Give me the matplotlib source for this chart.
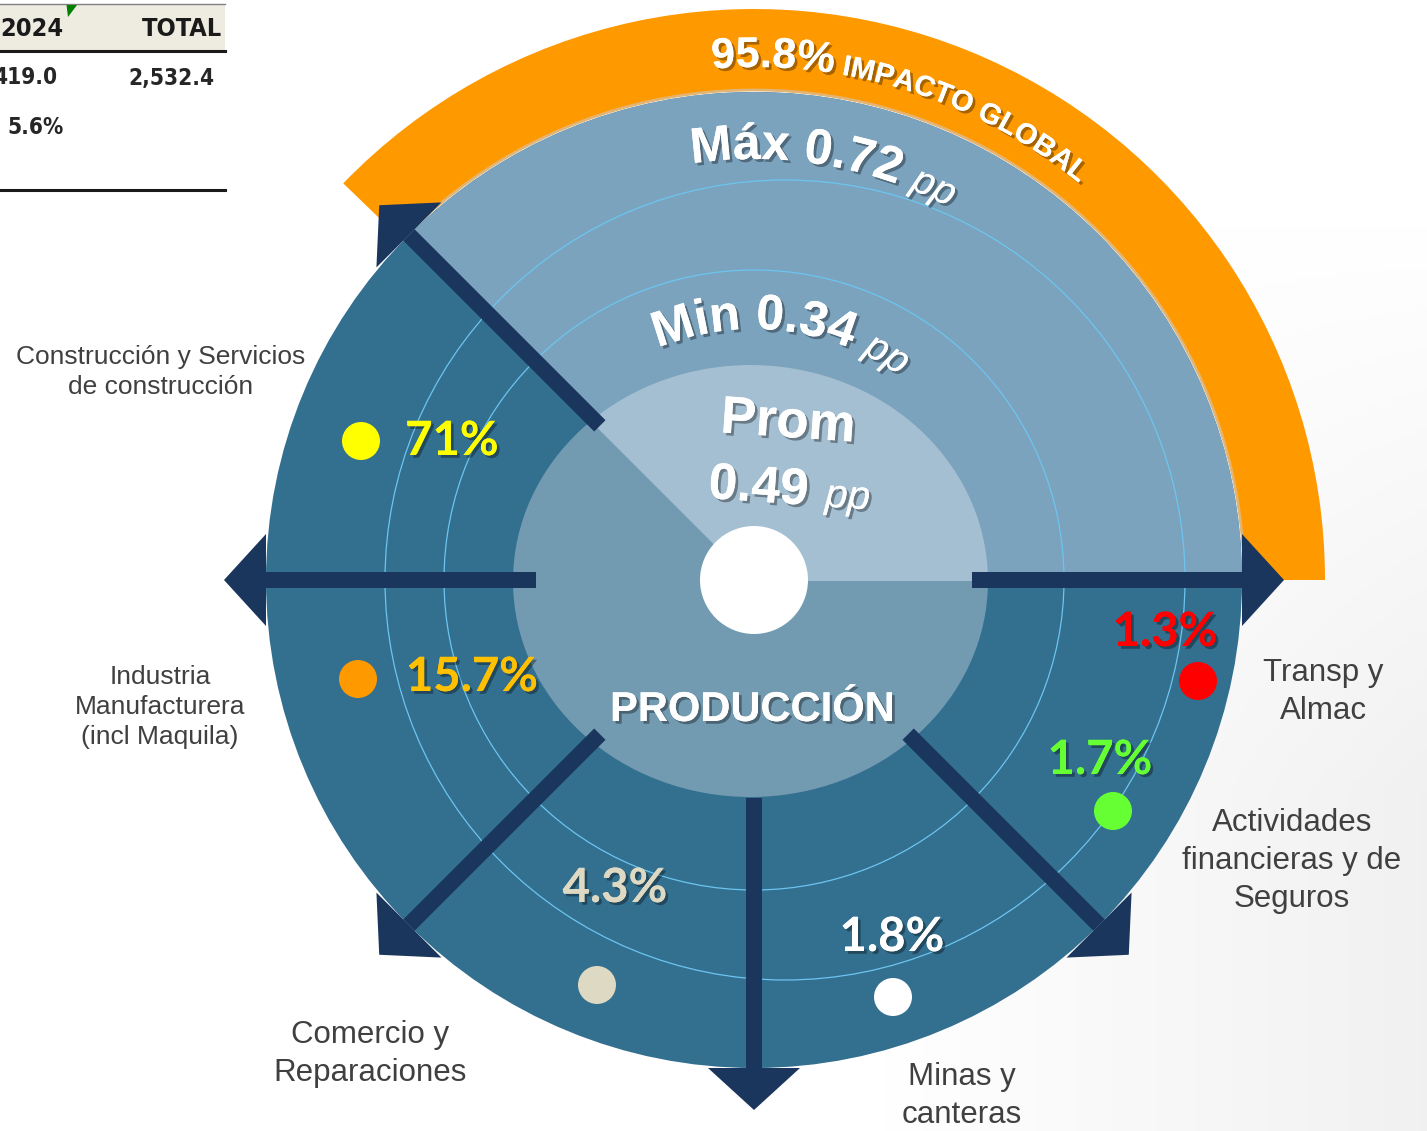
import numpy as np
import matplotlib
matplotlib.use('Agg')
import matplotlib.pyplot as plt
from matplotlib.patches import Wedge, Circle, Ellipse, Polygon, Rectangle, Arc
from matplotlib import font_manager as fm
from matplotlib.font_manager import FontProperties, findfont, get_font
import matplotlib.patheffects as pe

# --- data ---
impacto_global = 95.8
pp_max, pp_min, pp_prom = 0.72, 0.34, 0.49
sectores = ['Construcción y Servicios\nde construcción',
            'Industria\nManufacturera\n(incl Maquila)',
            'Comercio y\nReparaciones',
            'Minas y\ncanteras',
            'Actividades\nfinancieras y de\nSeguros',
            'Transp y\nAlmac']
participacion = [71.0, 15.7, 4.3, 1.8, 1.7, 1.3]
color_punto = ['#FFFF00', '#FF9900', '#DDD9C3', '#FFFFFF', '#66FF33', '#FF0000']
color_pct = ['#FFFF00', '#FFC000', '#DDD9C3', '#FFFFFF', '#66FF33', '#FF0000']
flechas_ang = [0, 135, 180, 225, 270, 315]
tabla_cols = ['2024', 'TOTAL']
tabla_fila1 = ['419.0', '2,532.4']
tabla_fila2 = ['5.6%', '']

# --- layout (image pixel coords) ---
pct_pos = [(452, 441), (472, 677), (615, 888), (892, 937), (1100, 760), (1165, 632)]
dot_pos = [(361, 441), (358, 679), (597, 985), (893, 997), (1113, 811), (1198, 681)]
lab_pos = [(161, 372), (160, 707), (370, 1054), (962, 1096), (1292, 861), (1323, 692)]
lab_size = [19, 19, 22.5, 22.5, 22.5, 22.5]

W, H = 1427, 1131
fig = plt.figure(figsize=(W / 100, H / 100), dpi=100)
ax = fig.add_axes([0, 0, 1, 1])


def Y(y):
    return H - y


CX, CY = 754, Y(580)
R = 488
ARIAL = 'Liberation Sans'
shadow = [pe.withSimplePatchShadow(offset=(2, -2), shadow_rgbFace='black', alpha=0.35), pe.Normal()]

# soft grey background on the right
gx = np.linspace(0, 1, 300)
gy = np.linspace(0, 1, 240)
GX, GY = np.meshgrid(gx, gy)
shade = np.clip((GX - 0.62) / 0.38, 0, 1) * np.clip((GY - 0.2) / 0.5, 0, 1)
bg = np.ones((240, 300, 3)) - 0.055 * shade[..., None]
ax.imshow(bg, extent=[0, W, H, 0], zorder=0, aspect='auto', origin='lower')
ax.set_xlim(0, W)
ax.set_ylim(0, H)
ax.axis('off')

# orange band
ax.add_patch(Wedge((CX, CY), 571, 0, 136, width=81, color='#FF9900', lw=0, zorder=1))
ax.add_patch(Arc((CX, CY), 2 * 490, 2 * 490, theta1=0, theta2=136, color='#E3B574', lw=2, zorder=1.5))

# main disk
ax.add_patch(Circle((CX, CY), R, color='#336F8F', lw=0, zorder=2))
ax.add_patch(Wedge((CX, CY), R, 0, 135, color='#7BA3BE', lw=0, zorder=2.1))
ax.add_patch(Circle((CX, CY), 310, fill=False, ec='#6CC5F0', lw=0.9, zorder=3))
ax.add_patch(Circle((CX + 31, CY), 400, fill=False, ec='#6CC5F0', lw=0.9, zorder=3))

# inner ellipse
ex, ey, ea, eb = 750.5, Y(581), 237.5, 216
ax.add_patch(Ellipse((ex, ey), 2 * ea, 2 * eb, color='#729BB2', lw=0, zorder=4))
phi = np.radians(np.linspace(0, 135, 120))
rr = ea * eb / np.sqrt((eb * np.cos(phi)) ** 2 + (ea * np.sin(phi)) ** 2)
pts = np.column_stack([ex + rr * np.cos(phi), ey + rr * np.sin(phi)])
pts = np.vstack([[ex, ey], pts])
ax.add_patch(Polygon(pts, closed=True, color='#A4BED2', lw=0, zorder=4.1))

# arrows
for a in flechas_ang:
    t = np.radians(a)
    u = np.array([np.cos(t), np.sin(t)])
    n = np.array([-np.sin(t), np.cos(t)])
    c = np.array([CX, CY])
    bar = [c + u * 218 + n * 8, c + u * R + n * 8, c + u * R - n * 8, c + u * 218 - n * 8]
    ax.add_patch(Polygon(bar, closed=True, color='#1B365D', lw=0, zorder=5))
    head = [c + u * R + n * 46, c + u * 530, c + u * R - n * 46]
    ax.add_patch(Polygon(head, closed=True, color='#1B365D', lw=0, zorder=5))

ax.add_patch(Circle((CX, CY), 54, color='white', lw=0, zorder=6))


def advances(s, fp, px):
    font = get_font(findfont(fp))
    font.set_size(px, 72)
    return [font.load_char(ord(ch)).linearHoriAdvance / 65536 for ch in s]


def arc_text(segments, r, theta0, color):
    pos = 0.0
    for s, px, weight, style in segments:
        fp = FontProperties(family=ARIAL, weight=weight, style=style, size=px)
        for ch, adv in zip(s, advances(s, fp, px)):
            p = np.radians(theta0) - (pos + adv / 2) / r
            pos += adv
            if ch == ' ':
                continue
            ax.text(CX + r * np.cos(p), CY + r * np.sin(p), ch, family=ARIAL, weight=weight,
                    style=style, fontsize=px * 0.72, color=color, rotation=np.degrees(p) - 90,
                    ha='center', va='baseline', rotation_mode='anchor', zorder=8,
                    path_effects=shadow)


arc_text([(f'{impacto_global}%', 43, 'bold', 'normal'),
          (' IMPACTO GLOBAL', 29, 'bold', 'normal')], 513, 94.7, 'white')
arc_text([(f'Máx {pp_max}', 50, 'bold', 'normal'), (' ', 48, 'normal', 'normal'),
          ('pp', 39, 'normal', 'italic')], 421, 98.5, 'white')
arc_text([(f'Min {pp_min}', 50, 'bold', 'normal'), (' ', 48, 'normal', 'normal'),
          ('pp', 39, 'normal', 'italic')], 251, 112.5, 'white')

ax.text(788, Y(423), 'Prom', family=ARIAL, weight='bold', fontsize=38, color='white',
        rotation=-4, ha='center', va='center', zorder=8, path_effects=shadow)
ax.text(810, Y(488), f'{pp_prom}', family=ARIAL, weight='bold', fontsize=37, color='white',
        rotation=-4, ha='right', va='center', zorder=8, path_effects=shadow)
ax.text(824, Y(497), 'pp', family=ARIAL, style='italic', fontsize=29, color='white',
        rotation=-4, ha='left', va='center', zorder=8, path_effects=shadow)
ax.text(752, Y(710), 'PRODUCCIÓN', family=ARIAL, weight='bold', fontsize=30, color='white',
        ha='center', va='center', zorder=8, path_effects=shadow)

# sector shares, dots and names
for name, v, cp, ct, (px_, py_), (dx, dy), (lx, ly), ls in zip(
        sectores, participacion, color_punto, color_pct, pct_pos, dot_pos, lab_pos, lab_size):
    ax.text(px_, Y(py_), f'{v:g}%', family=['Lato', 'DejaVu Sans'], weight='bold', fontsize=34,
            color=ct, ha='center', va='center', zorder=8, path_effects=shadow)
    ax.add_patch(Circle((dx, Y(dy)), 19, color=cp, lw=0, zorder=7))
    ax.text(lx, Y(ly), name, family=ARIAL, fontsize=ls, color='#404040',
            ha='center', va='center', linespacing=1.33, zorder=8)


# partial table at top-left (needs a narrow font)
def narrow_font(bold):
    for f in fm.fontManager.ttflist:
        wt = f.weight if isinstance(f.weight, int) else fm.weight_dict.get(f.weight, 400)
        is_narrow = ('Narrow' in f.name or 'Condensed' in f.name
                     or str(f.stretch) in ('condensed', 'semi-condensed', 'extra-condensed'))
        if is_narrow and (wt >= 600) == bold and f.style == 'normal':
            return FontProperties(fname=f.fname)
    return FontProperties(family=ARIAL, weight='bold' if bold else 'normal')


def fit_size(fp, txt, width_px):
    unit = sum(advances(txt, fp, 100)) / 100
    return width_px / unit * 0.72


fp_head = narrow_font(True)
fp_num = narrow_font(True)
fp_head.set_size(min(fit_size(fp_head, 'TOTAL', 82), 24))
fp_num.set_size(min(fit_size(fp_num, '2,532.4', 86), 24))

ax.add_patch(Rectangle((0, Y(50)), 225, 45, color='#EEECE1', lw=0, zorder=1))
ax.plot([0, 225], [Y(4), Y(4)], color='#808080', lw=1, zorder=2)
ax.plot([0, 225], [Y(51), Y(51)], color='#1a1a1a', lw=2.2, zorder=2)
ax.plot([0, 225], [Y(190), Y(190)], color='#1a1a1a', lw=2.2, zorder=2)
ax.add_patch(Polygon([(66.5, Y(5)), (77, Y(5)), (68, Y(17))], color='#008000', lw=0, zorder=2))
for x, txt in zip([63, 222], tabla_cols):
    ax.text(x, Y(29), txt, fontproperties=fp_head, color='#1a1a1a',
            ha='right', va='center', zorder=3)
for x, txt in zip([57, 214], tabla_fila1):
    ax.text(x, Y(78), txt, fontproperties=fp_num, color='#262626',
            ha='right', va='center', zorder=3)
for x, txt in zip([64, 214], tabla_fila2):
    ax.text(x, Y(127), txt, fontproperties=fp_num, color='#262626',
            ha='right', va='center', zorder=3)

fig.savefig('out.png', dpi=100)
